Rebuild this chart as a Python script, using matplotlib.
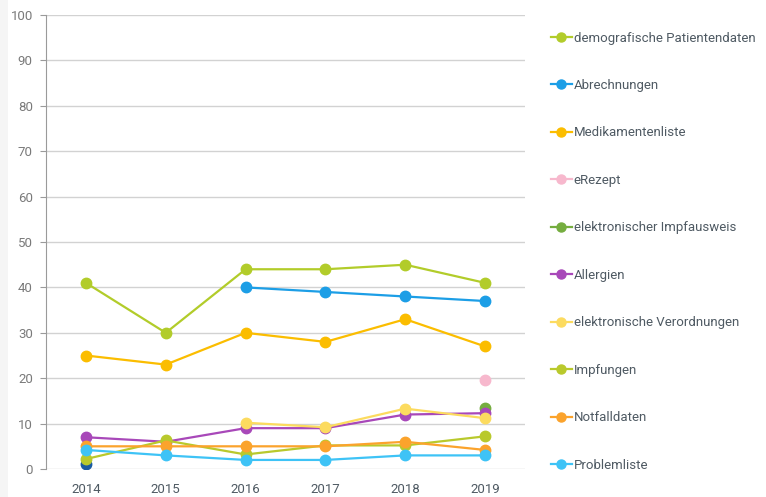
import matplotlib
matplotlib.use("Agg")
import matplotlib.pyplot as plt
from matplotlib.lines import Line2D
from matplotlib.patches import Rectangle
import numpy as np

plt.rcParams['font.family'] = ['Roboto', 'DejaVu Sans']

years = ['2014', '2015', '2016', '2017', '2018', '2019']
nan = np.nan

# series values (percent), NaN where no data
series = [
    ('demografische Patientendaten', '#b2cc2a', [41, 30, 44, 44, 45, 41]),
    ('Abrechnungen', '#1c9ee6', [nan, nan, 40, 39, 38, 37]),
    ('Medikamentenliste', '#fbbd00', [25, 23, 30, 28, 33, 27]),
    ('eRezept', '#f7b8cd', [nan, nan, nan, nan, nan, 19.5]),
    ('elektronischer Impfausweis', '#75ad3f', [nan, nan, nan, nan, nan, 13.5]),
    ('Allergien', '#a848b9', [7, 6, 9, 9, 12, 12.3]),
    ('elektronische Verordnungen', '#fcdb5f', [nan, nan, 10.2, 9.2, 13.3, 11.2]),
    ('Impfungen', '#b9c92c', [2.2, 6.3, 3.2, 5.2, 5.2, 7.2]),
    ('Notfalldaten', '#fba32c', [5, 5, 5, 5, 6, 4.2]),
    ('Problemliste', '#3ec3f6', [4.2, 3, 2, 2, 3, 3]),
]
# single point without legend entry
extra_label = 'unbenannt'
extra_color = '#1a5ba2'
extra_values = [1, nan, nan, nan, nan, nan]

fig = plt.figure(figsize=(7.66, 4.97), dpi=100)
fig.patches.append(Rectangle((0, 0), 0.011, 1, transform=fig.transFigure,
                             facecolor='#f5f5f5', edgecolor='none', zorder=0))
ax = fig.add_axes([0.0601, 0.0563, 0.6253, 0.9135])

x = np.arange(len(years))
ax.plot(x, extra_values, color=extra_color, marker='o', markersize=7.5, lw=1.6,
        label='_' + extra_label, zorder=3)
handles = []
for i, (name, color, vals) in enumerate(series):
    ax.plot(x, vals, color=color, marker='o', markersize=7.5, lw=1.6,
            label=name, zorder=3 + i)
    handles.append(Line2D([0], [0], color=color, marker='o', markersize=6.5,
                          lw=1.6, label=name))

ax.set_xlim(-0.5, 5.5)
ax.set_ylim(0, 100)
ax.set_yticks(np.arange(0, 101, 10))
ax.set_xticks(x)
ax.set_xticklabels(years)
ax.grid(axis='y', color='#d2d2d2', lw=1)
ax.set_axisbelow(True)
for s in ['top', 'right', 'bottom']:
    ax.spines[s].set_visible(False)
ax.spines['left'].set_color('#9a9a9a')
ax.tick_params(axis='y', colors='#9a9a9a', labelcolor='#7a7a7a', length=4.5,
               labelsize=9.5, pad=5)
ax.tick_params(axis='x', length=0, labelcolor='#4f5a63', labelsize=9.5, pad=10)

fig.legend(handles=handles, loc='upper left', bbox_to_anchor=(0.712, 0.947),
           frameon=False, fontsize=9.5, labelcolor='#4f5a63',
           handlelength=1.6, handletextpad=0.15, labelspacing=2.61,
           borderaxespad=0)

fig.savefig('out.png', dpi=100)
